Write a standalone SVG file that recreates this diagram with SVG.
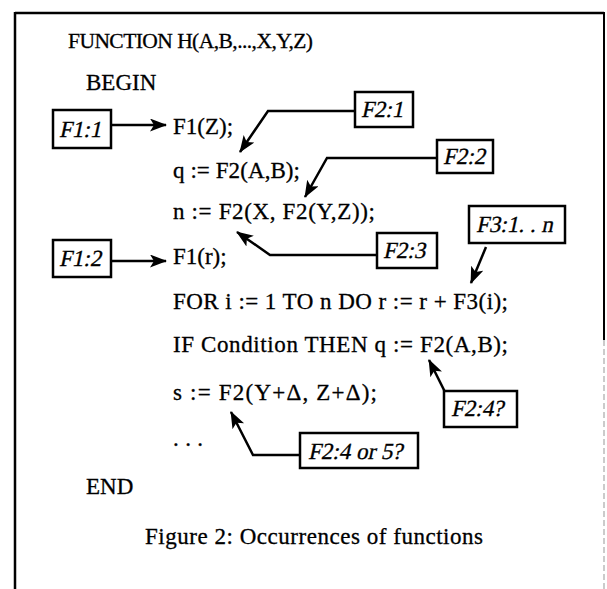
<svg xmlns="http://www.w3.org/2000/svg" width="607" height="589" viewBox="0 0 607 589">
<style>
.code{font-family:"Liberation Serif","Times New Roman",serif;font-size:23px;fill:#000;stroke:#000;stroke-width:0.3}
.lbl{font-family:"Liberation Serif","Times New Roman",serif;font-size:23px;fill:#000;stroke:#000;stroke-width:0.3}
.box{fill:#fff;stroke:#000;stroke-width:2.5}
.con{fill:none;stroke:#000;stroke-width:2.5;stroke-linejoin:miter}
</style>
<defs>
<marker id="ah" markerUnits="userSpaceOnUse" markerWidth="18" markerHeight="14" refX="16" refY="6.5" orient="auto">
<path d="M0,0 L17,6.5 L0,13 L4,6.5 z" fill="#000"/>
</marker>
</defs>
<rect width="607" height="589" fill="#fff"/>
<g id="frame">
<line x1="15" y1="13" x2="604" y2="13" stroke="#000" stroke-width="2.5"/>
<line x1="15" y1="12" x2="15" y2="589" stroke="#000" stroke-width="2.5"/>
<line x1="604" y1="12" x2="604" y2="340" stroke="#000" stroke-width="2"/>
<line x1="604" y1="340" x2="604" y2="589" stroke="#bbb" stroke-width="1.5" stroke-dasharray="6 3"/>
</g>
<g id="code">
<text class="code" x="68" y="48" style="font-size:21.5px" textLength="245" lengthAdjust="spacing">FUNCTION H(A,B,...,X,Y,Z)</text>
<text class="code" x="86" y="90">BEGIN</text>
<text class="code" x="173" y="134">F1(Z);</text>
<text class="code" x="173" y="178" textLength="127">q := F2(A,B);</text>
<text class="code" x="173" y="219" textLength="202">n := F2(X, F2(Y,Z));</text>
<text class="code" x="173" y="264">F1(r);</text>
<text class="code" x="173" y="309" textLength="335">FOR i := 1 TO n DO r := r + F3(i);</text>
<text class="code" x="173" y="352" textLength="335">IF Condition THEN q := F2(A,B);</text>
<text class="code" x="173" y="400" textLength="204">s := F2(Y+Δ, Z+Δ);</text>
<text class="code" x="173" y="446" textLength="30">. . .</text>
<text class="code" x="86" y="494">END</text>
<text class="code" x="145" y="544" textLength="338">Figure 2: Occurrences of functions</text>
</g>
<g id="F1-1"><rect class="box" x="53" y="110" width="58" height="38"/><text class="lbl" transform="translate(59,137) skewX(-12)">F1:1</text></g>
<g id="F1-2"><rect class="box" x="53" y="240" width="58" height="37"/><text class="lbl" transform="translate(59,266) skewX(-12)">F1:2</text></g>
<g id="F2-1"><rect class="box" x="355" y="92" width="58" height="35"/><text class="lbl" transform="translate(361,117) skewX(-12)">F2:1</text></g>
<g id="F2-2"><rect class="box" x="437" y="140" width="56" height="33"/><text class="lbl" transform="translate(443,164) skewX(-12)">F2:2</text></g>
<g id="F2-3"><rect class="box" x="377" y="233" width="60" height="35"/><text class="lbl" transform="translate(383,258) skewX(-12)">F2:3</text></g>
<g id="F3-1n"><rect class="box" x="469" y="206" width="96" height="37"/><text class="lbl" transform="translate(476,232) skewX(-12)">F3:1. . n</text></g>
<g id="F2-4q"><rect class="box" x="444" y="391" width="73" height="36"/><text class="lbl" transform="translate(451,416) skewX(-12)">F2:4?</text></g>
<g id="F2-4or5"><rect class="box" x="300" y="433" width="118" height="35"/><text class="lbl" transform="translate(308,459) skewX(-12)">F2:4 or 5?</text></g>
<g id="connectors">
<path class="con" d="M111,125 H166" marker-end="url(#ah)"/>
<path class="con" d="M111,261 H166" marker-end="url(#ah)"/>
<path class="con" d="M355,111 H268 L240,152" marker-end="url(#ah)"/>
<path class="con" d="M437,158 H327 L305,197" marker-end="url(#ah)"/>
<path class="con" d="M377,255 H270 L237,232" marker-end="url(#ah)"/>
<path class="con" d="M486,247 L471,283" marker-end="url(#ah)"/>
<path class="con" d="M445,392 L429,360" marker-end="url(#ah)"/>
<path class="con" d="M300,455 H253 L231,412" marker-end="url(#ah)"/>
</g>
</svg>
